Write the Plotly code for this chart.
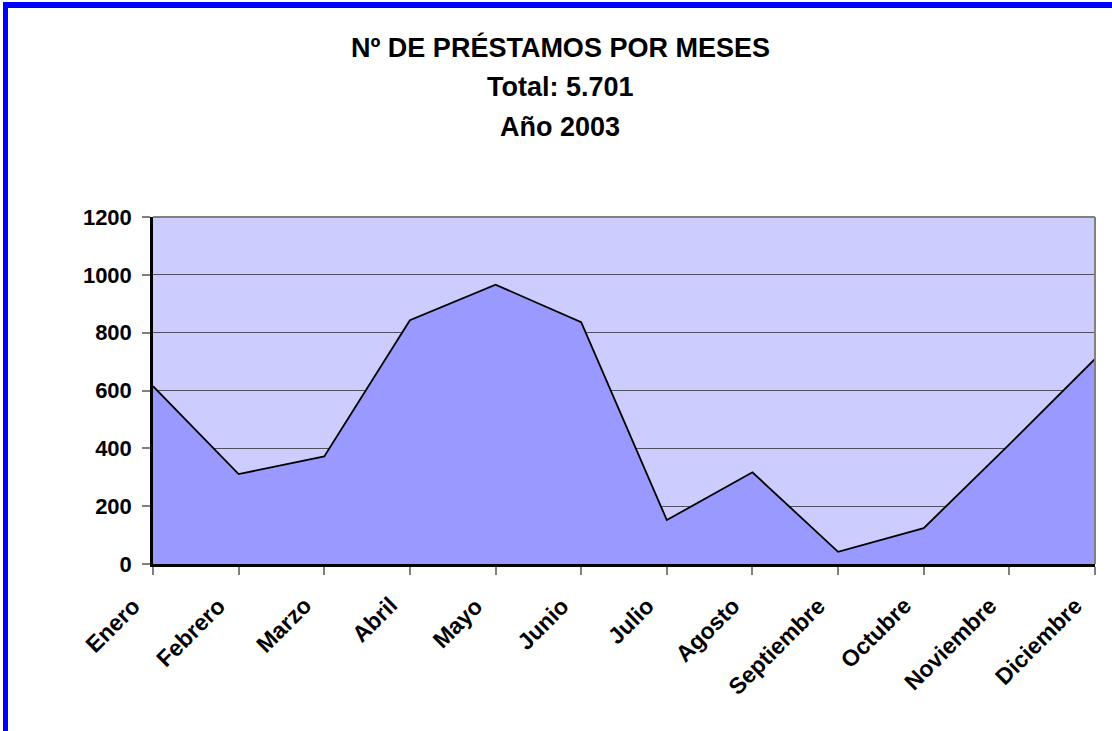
import plotly.graph_objects as go

months = ["Enero", "Febrero", "Marzo", "Abril", "Mayo", "Junio", "Julio",
          "Agosto", "Septiembre", "Octubre", "Noviembre", "Diciembre"]
prestamos = [615, 311, 372, 843, 966, 836, 152, 317, 42, 124, 414, 709]
title_lines = ["Nº DE PRÉSTAMOS POR MESES", "Total: 5.701", "Año 2003"]
y_ticks = [0, 200, 400, 600, 800, 1000, 1200]

W, H = 1112, 731
L, R, T, B = 153, 1095, 217, 564  # plot area in pixels


def px_x(p):
    return (p - L) / (R - L)


def px_y(p):
    return (B - p) / (B - T)


FONT = "Liberation Sans, Arial, sans-serif"

fig = go.Figure()
fig.add_trace(go.Scatter(
    x=months, y=prestamos, mode="lines", fill="tozeroy",
    fillcolor="#9999FF", line=dict(color="black", width=1.8),
    hoverinfo="x+y", showlegend=False,
))

shapes = [
    dict(type="line", xref="paper", yref="paper", x0=0, x1=1, y0=1, y1=1,
         line=dict(color="#808080", width=2), layer="above"),
    dict(type="line", xref="paper", yref="paper", x0=1, x1=1, y0=0, y1=1,
         line=dict(color="#808080", width=2), layer="above"),
    dict(type="rect", xref="paper", yref="paper",
         x0=px_x(3), x1=px_x(W + 5), y0=px_y(8), y1=px_y(2),
         fillcolor="#0000FF", line=dict(width=0), layer="above"),
    dict(type="rect", xref="paper", yref="paper",
         x0=px_x(3), x1=px_x(8), y0=px_y(H + 5), y1=px_y(2),
         fillcolor="#0000FF", line=dict(width=0), layer="above"),
]

title_y = [47, 87, 127]
annotations = [
    dict(text=t, xref="paper", yref="paper", x=px_x(560),
         y=px_y(yy), xanchor="center", yanchor="middle", showarrow=False,
         font=dict(family=FONT, size=27, color="black", weight="bold"))
    for t, yy in zip(title_lines, title_y)
]
# rotated month labels
for m in months:
    annotations.append(dict(
        text=m, x=m, xref="x", y=0, yref="paper", xanchor="right",
        yanchor="top", xshift=-5, yshift=-26, textangle=-45,
        showarrow=False,
        font=dict(family=FONT, size=23, color="black", weight="bold"),
    ))

fig.update_layout(
    width=W, height=H,
    margin=dict(l=L, r=W - R, t=T, b=H - B, autoexpand=False),
    paper_bgcolor="white", plot_bgcolor="#CCCCFF",
    shapes=shapes, annotations=annotations,
    font=dict(family=FONT, color="black"),
)
fig.update_xaxes(
    type="category", range=[0, len(months) - 1],
    showgrid=False, showline=True, linecolor="black", linewidth=2.5,
    ticks="outside", ticklen=8, tickcolor="#808080", tickwidth=1.5,
    showticklabels=False,
)
fig.update_yaxes(
    range=[0, 1200], tickvals=y_ticks, ticktext=[str(v) for v in y_ticks],
    showgrid=True, gridcolor="#505060", gridwidth=1.4,
    showline=True, linecolor="black", linewidth=2.5,
    ticks="outside", ticklen=8, tickcolor="#808080", tickwidth=1.5,
    tickfont=dict(family=FONT, size=22, color="black", weight="bold"),
    ticklabelstandoff=6, zeroline=False,
)

fig.write_html("out.html", config={"displayModeBar": False},
               post_script="document.body.style.margin='0';")
